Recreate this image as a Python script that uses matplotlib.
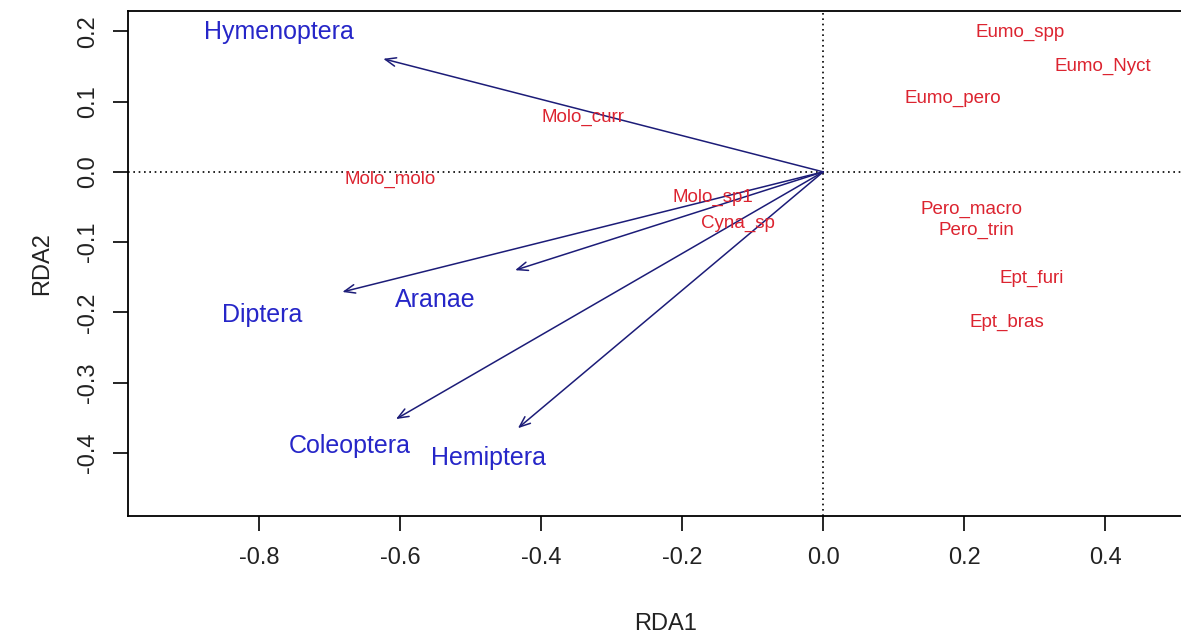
import matplotlib
matplotlib.use('agg')
from matplotlib import pyplot as plt, rcParams

rcParams['font.family'] = ['Liberation Sans', 'DejaVu Sans']
rcParams['axes.unicode_minus'] = False

# arrows (taxa scores) and where their names sit
taxa = ['Hymenoptera', 'Diptera', 'Aranae', 'Coleoptera', 'Hemiptera']
taxa_x = [-0.624, -0.682, -0.437, -0.606, -0.433]
taxa_y = [0.161, -0.171, -0.140, -0.352, -0.365]
taxa_lab_x = [-0.772, -0.796, -0.550, -0.671, -0.475]
taxa_lab_y = [0.199, -0.204, -0.182, -0.390, -0.407]

# species scores
species = ['Eumo_spp', 'Eumo_Nyct', 'Eumo_pero', 'Molo_curr', 'Molo_molo',
           'Molo_sp1', 'Cyna_sp', 'Pero_macro', 'Pero_trin', 'Ept_furi', 'Ept_bras']
sp_x = [0.279, 0.396, 0.184, -0.340, -0.614, -0.156, -0.121, 0.211, 0.217, 0.296, 0.261]
sp_y = [0.199, 0.150, 0.104, 0.078, -0.011, -0.037, -0.073, -0.054, -0.083, -0.151, -0.215]

xticks = [-0.8, -0.6, -0.4, -0.2, 0.0, 0.2, 0.4]
yticks = [-0.4, -0.3, -0.2, -0.1, 0.0, 0.1, 0.2]

fig = plt.figure(figsize=(11.81, 6.34), dpi=100)
# same scale on both axes (about 705 px per unit), right edge runs past the figure
ax = fig.add_axes([0.1084, 0.1861, 0.911, 0.7965])
ax.set_xlim(-0.986, 0.54)
ax.set_ylim(-0.490, 0.229)

ax.axhline(0, color='black', lw=1.2, ls=(0, (1, 2.2)), zorder=1)
ax.axvline(0, color='black', lw=1.2, ls=(0, (1, 2.2)), zorder=1)

for x, y in zip(taxa_x, taxa_y):
    ax.annotate('', xy=(x, y), xytext=(0, 0),
                arrowprops=dict(arrowstyle='->,head_length=0.55,head_width=0.22',
                                color='#1c1c78', lw=1.1, shrinkA=0, shrinkB=0,
                                mutation_scale=14), zorder=2)

for name, x, y in zip(taxa, taxa_lab_x, taxa_lab_y):
    ax.text(x, y, name, color='#2626c8', fontsize=18, ha='center', va='center', zorder=3)

for name, x, y in zip(species, sp_x, sp_y):
    ax.text(x, y, name, color='#dc2430', fontsize=13.5, ha='center', va='center', zorder=3)

ax.set_xticks(xticks)
ax.set_yticks(yticks)
ax.set_xticklabels(['%.1f' % v for v in xticks])
ax.set_yticklabels(['%.1f' % v for v in yticks], rotation=90, va='center')
ax.tick_params(length=11, width=1.2, labelsize=17, color='black', labelcolor='#222222')
ax.tick_params(axis='x', pad=11)
ax.tick_params(axis='y', pad=10)

for sp in ax.spines.values():
    sp.set_linewidth(1.3)

ax.set_xlabel('RDA1', fontsize=17, color='#222222', labelpad=32)
ax.set_ylabel('RDA2', fontsize=17, color='#222222', labelpad=17)

fig.savefig('out.png', dpi=100)
